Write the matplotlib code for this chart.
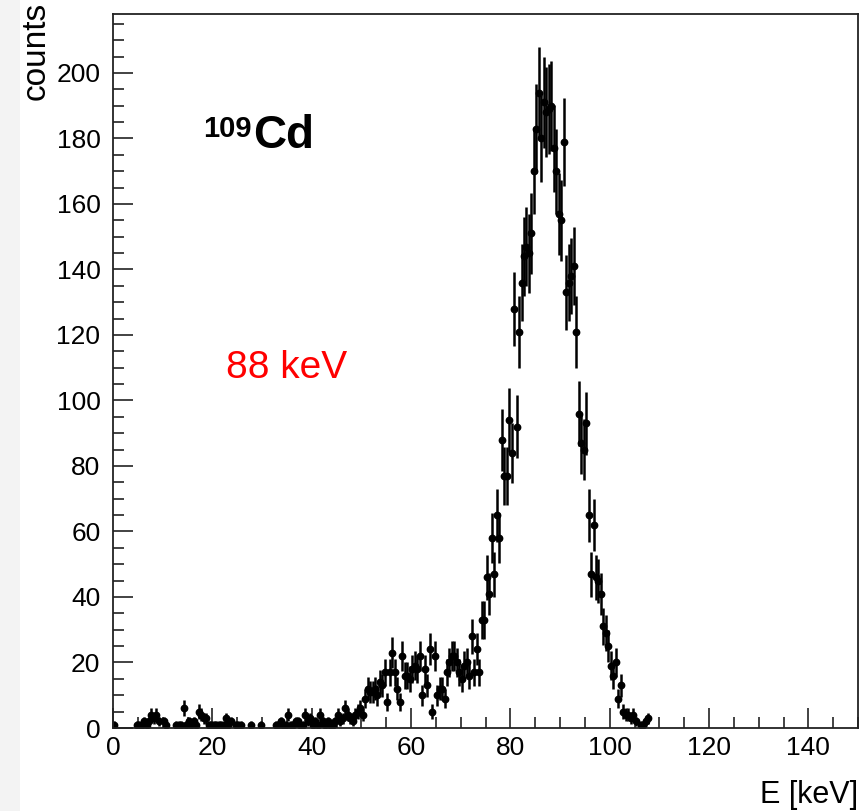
import numpy as np
import matplotlib
matplotlib.use('Agg')
import matplotlib.pyplot as plt
from matplotlib.patches import Rectangle

plt.rcParams['font.family'] = ['Liberation Sans', 'DejaVu Sans']

# histogram binning (keV)
bin_lo = 0.0
bin_w = 0.5

# counts per 0.5 keV bin, from 0 keV up to 108 keV, in 10 keV chunks
counts_0_10 = [1, 0, 0, 0, 0, 0, 0, 0, 0, 1, 1, 1, 2, 1, 2, 4, 3, 4, 2, 0]
counts_10_20 = [2, 1, 0, 0, 0, 1, 1, 1, 6, 1, 2, 1, 2, 1, 5, 4, 3, 3, 1, 1]
counts_20_30 = [1, 1, 1, 1, 1, 3, 1, 2, 0, 1, 1, 1, 0, 0, 0, 1, 0, 0, 0, 1]
counts_30_40 = [0, 0, 0, 0, 0, 1, 1, 2, 1, 1, 4, 1, 1, 2, 2, 1, 1, 4, 2, 3]
counts_40_50 = [1, 2, 1, 4, 2, 1, 2, 1, 1, 2, 4, 2, 3, 6, 4, 3, 2, 4, 5, 6]
counts_50_60 = [4, 9, 12, 11, 11, 12, 10, 14, 13, 17, 8, 17, 23, 17, 12, 8, 22, 16, 16, 15]
counts_60_70 = [18, 19, 18, 22, 10, 18, 13, 24, 5, 22, 10, 12, 12, 9, 17, 20, 22, 22, 20, 17]
counts_70_80 = [15, 19, 20, 16, 28, 17, 24, 17, 33, 33, 46, 41, 58, 47, 65, 58, 88, 77, 77, 94]
counts_80_90 = [84, 128, 92, 121, 136, 144, 147, 145, 151, 170, 183, 194, 180, 191, 188, 189, 190, 177, 170, 157]
counts_90_100 = [155, 179, 133, 136, 138, 141, 121, 96, 87, 85, 93, 65, 47, 62, 46, 45, 41, 31, 29, 25]
counts_100_108 = [19, 16, 20, 9, 13, 5, 4, 4, 3, 4, 2, 0, 1, 1, 2, 3]

counts = np.array(counts_0_10 + counts_10_20 + counts_20_30 + counts_30_40 + counts_40_50
                  + counts_50_60 + counts_60_70 + counts_70_80 + counts_80_90
                  + counts_90_100 + counts_100_108, dtype=float)
energy = bin_lo + bin_w * (np.arange(len(counts)) + 0.5)
filled = counts > 0

fig = plt.figure(figsize=(8.6, 8.11), dpi=100)
fig.patches.append(Rectangle((0, 0), 20 / 860, 1, transform=fig.transFigure,
                             facecolor='#f3f3f3', edgecolor='none', zorder=0))
ax = fig.add_axes([113 / 860, 1 - 728 / 811, 745 / 860, 714 / 811])

ax.errorbar(energy[filled], counts[filled], yerr=np.sqrt(counts[filled]),
            xerr=bin_w / 2, fmt='o', ms=4.6, color='black', ecolor='black',
            elinewidth=1.8, capsize=0)

ax.set_xlim(0, 150)
ax.set_ylim(0, 218)
ax.set_xticks(np.arange(0, 141, 20))
ax.set_xticks(np.arange(0, 151, 5), minor=True)
ax.set_yticks(np.arange(0, 201, 20))
ax.set_yticks(np.arange(0, 216, 5), minor=True)
ax.tick_params(which='both', direction='in', width=1.2, colors='#222222',
               labelcolor='black', labelsize=19)
ax.tick_params(which='major', length=14.5)
ax.tick_params(which='minor', length=8)
ax.tick_params(axis='y', pad=9)
ax.tick_params(axis='x', pad=6)
for sp in ax.spines.values():
    sp.set_linewidth(1.3)
    sp.set_color('#222222')

fig.text(36 / 860, 1 - 2 / 811, 'counts', rotation=90, ha='center', va='top',
         fontsize=24)
fig.text(858 / 860, 1 - 803 / 811, 'E [keV]', ha='right', va='baseline',
         fontsize=22)

ax.text(18.1, 180.5, '109', fontsize=21, fontweight='bold', ha='left', va='baseline')
ax.text(28.2, 177.0, 'Cd', fontsize=33, fontweight='bold', ha='left', va='baseline')
ax.text(22.7, 106.9, '88 keV', fontsize=28, color='red', ha='left', va='baseline')

fig.savefig('out.png', dpi=100)
